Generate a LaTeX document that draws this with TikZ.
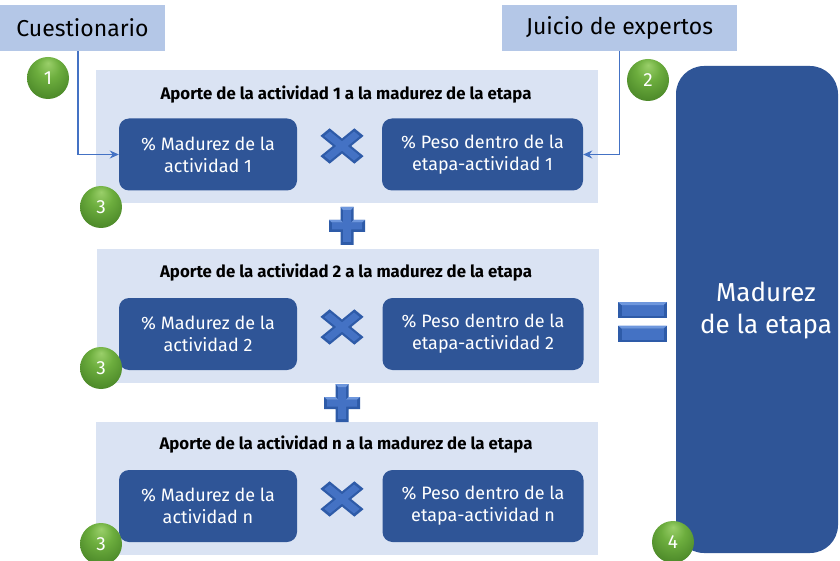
\documentclass[tikz,border=0pt]{standalone}
\usepackage{fontspec}
\setmainfont{Fira Sans}
\usetikzlibrary{arrows.meta}
\definecolor{panelc}{HTML}{DAE3F3}
\definecolor{headc}{HTML}{B4C7E7}
\definecolor{darkb}{HTML}{2F5597}
\definecolor{lineb}{HTML}{4472C4}
\definecolor{symb}{HTML}{4472C4}
\definecolor{symlight}{HTML}{6E97DD}
\definecolor{symdark}{HTML}{2E5BA8}
\definecolor{gA}{HTML}{9ACF6A}
\definecolor{gB}{HTML}{6DAE3E}
\definecolor{gC}{HTML}{4F8C2B}
\definecolor{gD}{HTML}{3F7420}
\pgfdeclareradialshading{greenball}{\pgfpoint{0bp}{18bp}}{%
  color(0bp)=(gA); color(14bp)=(gB); color(30bp)=(gC); color(40bp)=(gD); color(50bp)=(gD)}
\begin{document}
\begin{tikzpicture}[x=1pt,y=-1pt,
  panel/.style={fill=panelc,draw=none,minimum width=502pt,minimum height=133pt,inner sep=0pt},
  head/.style={fill=headc,draw=none,inner sep=0pt,font=\fontsize{23}{26}\selectfont},
  ptitle/.style={font=\bfseries\fontsize{16.8}{18}\selectfont,text=black},
  bluebox/.style={fill=darkb,draw=none,rounded corners=10pt,minimum width=178pt,minimum height=72pt,
     text=white,align=center,font=\fontsize{18}{22}\selectfont,inner sep=0pt},
  bigbox/.style={fill=darkb,draw=none,rounded corners=28pt,minimum width=162pt,minimum height=487pt,inner sep=0pt},
  ball/.style={circle,minimum size=42pt,inner sep=0pt,shading=greenball,text=white,
     font=\fontsize{19}{21}\selectfont},
  conn/.style={draw=lineb,line width=1.5pt,-{Stealth[length=9pt,width=8pt]}},
  plussym/.pic={
    \fill[symdark] (-6.5,-19) -- (6.5,-19) -- (6.5,-6) -- (18,-6) -- (18,6) -- (6.5,6) -- (6.5,19) -- (-6.5,19) -- (-6.5,6) -- (-18,6) -- (-18,-6) -- (-6.5,-6) -- cycle;
    \fill[symb] (-4,-16) -- (4,-16) -- (4,-3.5) -- (15,-3.5) -- (15,3.5) -- (4,3.5) -- (4,16) -- (-4,16) -- (-4,3.5) -- (-15,3.5) -- (-15,-3.5) -- (-4,-3.5) -- cycle;
    \fill[symlight] (-6.5,-19) -- (6.5,-19) -- (4,-16) -- (-4,-16) -- cycle;
    \fill[symlight] (-18,-6) -- (-6.5,-6) -- (-4,-3.5) -- (-15,-3.5) -- cycle;
    \fill[symlight] (6.5,-6) -- (18,-6) -- (15,-3.5) -- (4,-3.5) -- cycle;
  },
  timessym/.pic={
    \begin{scope}[yscale=0.82,rotate=45]
    \fill[symdark] (-6.5,-24) -- (6.5,-24) -- (6.5,-6.5) -- (24,-6.5) -- (24,6.5) -- (6.5,6.5) -- (6.5,24) -- (-6.5,24) -- (-6.5,6.5) -- (-24,6.5) -- (-24,-6.5) -- (-6.5,-6.5) -- cycle;
    \fill[symb] (-4,-21) -- (4,-21) -- (4,-4) -- (21,-4) -- (21,4) -- (4,4) -- (4,21) -- (-4,21) -- (-4,4) -- (-21,4) -- (-21,-4) -- (-4,-4) -- cycle;
    \end{scope}
  },
  barsym/.pic={
    \fill[symdark] (-24.5,-8) rectangle (24.5,8);
    \fill[symb] (-21,-5) rectangle (21,6);
    \fill[symlight] (-24.5,-8) -- (24.5,-8) -- (21,-5) -- (-21,-5) -- cycle;
  }
]
\useasboundingbox (0,0) rectangle (840,561);
\fill[white] (0,0) rectangle (840,561);

% header boxes
\node[head,minimum width=165pt,minimum height=46pt] (q) at (82.5,28) {Cuestionario};
\node[head,minimum width=235pt,minimum height=46pt] (j) at (619.5,28) {Juicio de expertos};

% panels
\node[panel] (p1) at (346.5,136.5) {};
\node[panel] (p2) at (347.5,316) {};
\node[panel] (p3) at (347,488.5) {};

\node[ptitle] (t1) at (346,95) {Aporte de la actividad 1 a la madurez de la etapa};
\node[ptitle] (t2) at (346,273) {Aporte de la actividad 2 a la madurez de la etapa};
\node[ptitle] (t3) at (346,445) {Aporte de la actividad n a la madurez de la etapa};

\node[bluebox] (m1) at (208,154.5) {\% Madurez de la\\actividad 1};
\node[bluebox,minimum width=201pt] (w1) at (482.5,154.5) {\% Peso dentro de la\\etapa-actividad 1};
\node[bluebox] (m2) at (208,334) {\% Madurez de la\\actividad 2};
\node[bluebox,minimum width=201pt] (w2) at (483,334) {\% Peso dentro de la\\etapa-actividad 2};
\node[bluebox] (m3) at (208,506) {\% Madurez de la\\actividad n};
\node[bluebox,minimum width=201pt] (w3) at (483,506) {\% Peso dentro de la\\etapa-actividad n};

% big box
\node[bigbox] (big) at (757,309.5) {};
\node[text=white,align=center,font=\fontsize{26}{32}\selectfont] (bt) at (766,311) {Madurez\\de la etapa};

% symbols
\pic at (347,226) {plussym};
\pic at (342,403) {plussym};
\pic at (342,146) {timessym};
\pic at (342,327) {timessym};
\pic at (342,499) {timessym};
\pic at (642.5,310) {barsym};
\pic at (642.5,333.5) {barsym};

% connectors
\draw[conn] ([xshift=-4.5pt]q.south) |- (m1.west);
\draw[conn] (j.south) |- (w1.east);

% numbered balls
\node[ball] (b1) at (48,78) {1};
\node[ball] (b2) at (648,80) {2};
\node[ball] (b3a) at (101,207) {3};
\node[ball] (b3b) at (101,368) {3};
\node[ball] (b3c) at (101,544) {3};
\node[ball] (b4) at (673,542) {4};
\end{tikzpicture}
\end{document}
